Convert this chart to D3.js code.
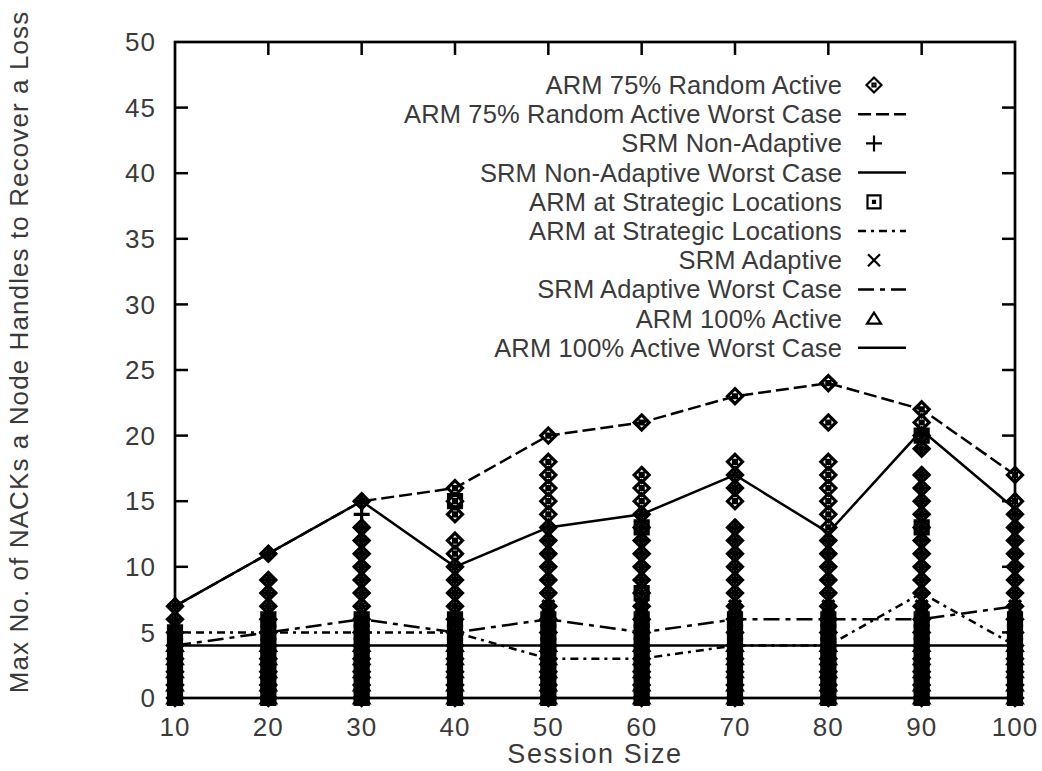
<!DOCTYPE html>
<html>
<head>
<meta charset="utf-8">
<script src="https://cdn.jsdelivr.net/npm/d3@7"></script>
<style>
  body { margin: 0; background: #fff; }
  text { font-family: "Liberation Sans", Arial, sans-serif; fill: #3a3a3a; }
</style>
</head>
<body>
<svg id="chart"></svg>
<script>
// session sizes on the x axis
var sessionSizes = [10, 20, 30, 40, 50, 60, 70, 80, 90, 100];
var yTicks = [0, 5, 10, 15, 20, 25, 30, 35, 40, 45, 50];

// worst case lines (one value per session size)
var arm75Worst = [7, 11, 15, 16, 20, 21, 23, 24, 22, 17];
var srmNonAdaptiveWorst = [7, 11, 15, 10, 13, 14, 17, 12.6, 20.4, 14.4];
var armStrategicWorst = [5, 5, 5, 5, 3, 3, 4, 4, 8, 4];
var srmAdaptiveWorst = [4, 5, 6, 5, 6, 5, 6, 6, 6, 7];
var arm100Worst = [4, 4, 4, 4, 4, 4, 4, 4, 4, 4];

// per node values observed at each session size
var arm75Points = [
  [0, 1, 2, 3, 4, 5, 6, 7],
  [0, 1, 2, 3, 4, 5, 6, 7, 8, 9, 11],
  [0, 1, 2, 3, 4, 5, 6, 7, 8, 9, 10, 11, 12, 13, 15],
  [0, 1, 2, 3, 4, 5, 6, 7, 8, 9, 10, 11, 12, 14, 15, 16],
  [0, 1, 2, 3, 4, 5, 6, 7, 8, 9, 10, 11, 12, 13, 14, 15, 16, 17, 18, 20],
  [0, 1, 2, 3, 4, 5, 6, 7, 8, 9, 10, 11, 12, 13, 14, 15, 16, 17, 21],
  [0, 1, 2, 3, 4, 5, 6, 7, 8, 9, 10, 11, 12, 13, 15, 16, 17, 18, 23],
  [0, 1, 2, 3, 4, 5, 6, 7, 8, 9, 10, 11, 12, 13, 14, 15, 16, 17, 18, 21, 24],
  [0, 1, 2, 3, 4, 5, 6, 7, 8, 9, 10, 11, 12, 13, 14, 15, 16, 17, 19, 20, 21, 22],
  [0, 1, 2, 3, 4, 5, 6, 7, 8, 9, 10, 11, 12, 13, 14, 15, 17]
];
var srmNonAdaptivePoints = [
  [0, 1, 2, 3, 4, 5, 6, 7],
  [0, 1, 2, 3, 4, 5, 6, 7, 8, 9, 11],
  [0, 1, 2, 3, 4, 5, 6, 7, 8, 9, 10, 11, 12, 13, 14, 15],
  [0, 1, 2, 3, 4, 5, 6, 7, 8, 9, 10],
  [0, 1, 2, 3, 4, 5, 6, 7, 8, 9, 10, 11, 12, 13],
  [0, 1, 2, 3, 4, 5, 6, 7, 8, 9, 10, 11, 12, 13, 14],
  [0, 1, 2, 3, 4, 5, 6, 7, 8, 9, 10, 11, 12, 13, 16, 17],
  [0, 1, 2, 3, 4, 5, 6, 7, 8, 9, 10, 11, 12],
  [0, 1, 2, 3, 4, 5, 6, 7, 8, 9, 10, 11, 12, 13, 14, 15, 16, 17, 19, 20],
  [0, 1, 2, 3, 4, 5, 6, 7, 8, 9, 10, 11, 12, 13, 14]
];
var armStrategicPoints = [
  [0, 1, 2, 3, 4, 5],
  [0, 1, 2, 3, 4, 5, 6],
  [0, 1, 2, 3, 4, 5, 6],
  [0, 1, 2, 3, 4, 5, 6, 15],
  [0, 1, 2, 3, 4, 5, 6],
  [0, 1, 2, 3, 4, 5, 6, 8, 13],
  [0, 1, 2, 3, 4, 5, 6],
  [0, 1, 2, 3, 4, 5, 6],
  [0, 1, 2, 3, 4, 5, 6, 13, 20],
  [0, 1, 2, 3, 4, 5, 6]
];
var srmAdaptivePoints = [
  [0, 1, 2, 3, 4, 5],
  [0, 1, 2, 3, 4, 5, 6],
  [0, 1, 2, 3, 4, 5, 6],
  [0, 1, 2, 3, 4, 5, 6],
  [0, 1, 2, 3, 4, 5, 6, 7],
  [0, 1, 2, 3, 4, 5, 6, 7],
  [0, 1, 2, 3, 4, 5, 6, 7],
  [0, 1, 2, 3, 4, 5, 6, 7],
  [0, 1, 2, 3, 4, 5, 6, 7],
  [0, 1, 2, 3, 4, 5, 6, 7]
];
var arm100Points = [
  [0, 1, 2, 3, 4],
  [0, 1, 2, 3, 4],
  [0, 1, 2, 3, 4],
  [0, 1, 2, 3, 4],
  [0, 1, 2, 3, 4],
  [0, 1, 2, 3, 4],
  [0, 1, 2, 3, 4],
  [0, 1, 2, 3, 4],
  [0, 1, 2, 3, 4],
  [0, 1, 2, 3, 4]
];

var legendLabels = [
  "ARM 75% Random Active", "ARM 75% Random Active Worst Case",
  "SRM Non-Adaptive", "SRM Non-Adaptive Worst Case",
  "ARM at Strategic Locations", "ARM at Strategic Locations",
  "SRM Adaptive", "SRM Adaptive Worst Case",
  "ARM 100% Active", "ARM 100% Active Worst Case"
];

var svgWidth = 1042, svgHeight = 771;
var margin = { top: 42, right: 27, bottom: 73, left: 175 };
var width = svgWidth - margin.left - margin.right;
var height = svgHeight - margin.top - margin.bottom;

var svg = d3.select("#chart")
    .attr("width", svgWidth)
    .attr("height", svgHeight);

var g = svg.append("g")
    .attr("transform", "translate(" + margin.left + "," + margin.top + ")");

var x = d3.scaleLinear().domain([10, 100]).range([0, width]);
var y = d3.scaleLinear().domain([0, 50]).range([height, 0]);

// marker shapes, drawn as paths around 0,0
function markerPath(kind) {
  var p = d3.path();
  if (kind == "diamond") {
    p.moveTo(0, -7.5); p.lineTo(7.5, 0); p.lineTo(0, 7.5); p.lineTo(-7.5, 0); p.closePath();
    p.moveTo(-1.5, -1.5); p.lineTo(1.5, -1.5); p.lineTo(1.5, 1.5); p.lineTo(-1.5, 1.5); p.closePath();
  } else if (kind == "plus") {
    p.moveTo(-8, 0); p.lineTo(8, 0);
    p.moveTo(0, -8); p.lineTo(0, 8);
  } else if (kind == "square") {
    p.rect(-6.5, -6.5, 13, 13);
    p.moveTo(-1, -1); p.lineTo(1, -1); p.lineTo(1, 1); p.lineTo(-1, 1); p.closePath();
  } else if (kind == "times") {
    p.moveTo(-6, -6); p.lineTo(6, 6);
    p.moveTo(6, -6); p.lineTo(-6, 6);
  } else if (kind == "triangle") {
    p.moveTo(0, -6); p.lineTo(7, 5); p.lineTo(-7, 5); p.closePath();
  }
  return p.toString();
}

var series = [
  { points: arm75Points, marker: "diamond", worst: arm75Worst, dash: "13,5" },
  { points: srmNonAdaptivePoints, marker: "plus", worst: srmNonAdaptiveWorst, dash: null },
  { points: armStrategicPoints, marker: "square", worst: armStrategicWorst, dash: "8,5,3,5" },
  { points: srmAdaptivePoints, marker: "times", worst: srmAdaptiveWorst, dash: "16,6,5,6" },
  { points: arm100Points, marker: "triangle", worst: arm100Worst, dash: null }
];

var line = d3.line()
    .x(function(d) { return x(d.size); })
    .y(function(d) { return y(d.value); });

series.forEach(function(s) {
  var pts = [];
  s.points.forEach(function(vals, i) {
    vals.forEach(function(v) { pts.push({ size: sessionSizes[i], value: v }); });
  });
  g.append("g").selectAll("path")
    .data(pts)
    .enter().append("path")
    .attr("transform", function(d) { return "translate(" + x(d.size) + "," + y(d.value) + ")"; })
    .attr("d", markerPath(s.marker))
    .attr("fill", "none")
    .attr("stroke", "#000")
    .attr("stroke-width", 3.2);

  var wc = s.worst.map(function(v, i) { return { size: sessionSizes[i], value: v }; });
  g.append("path")
    .datum(wc)
    .attr("fill", "none")
    .attr("stroke", "#000")
    .attr("stroke-width", 2.5)
    .attr("stroke-dasharray", s.dash)
    .attr("d", line);
});

// border with ticks on all four sides
var tickLen = 13;
g.append("rect")
    .attr("width", width).attr("height", height)
    .attr("fill", "none").attr("stroke", "#000").attr("stroke-width", 2.7);

g.append("g").selectAll("line").data(yTicks.slice(1, -1)).enter().append("line")
    .attr("x1", 0).attr("x2", tickLen)
    .attr("y1", function(d) { return y(d); }).attr("y2", function(d) { return y(d); })
    .attr("stroke", "#000").attr("stroke-width", 2.5);
g.append("g").selectAll("line").data(yTicks.slice(1, -1)).enter().append("line")
    .attr("x1", width).attr("x2", width - tickLen)
    .attr("y1", function(d) { return y(d); }).attr("y2", function(d) { return y(d); })
    .attr("stroke", "#000").attr("stroke-width", 2.5);
g.append("g").selectAll("line").data(sessionSizes.slice(1, -1)).enter().append("line")
    .attr("y1", height).attr("y2", height - tickLen)
    .attr("x1", function(d) { return x(d); }).attr("x2", function(d) { return x(d); })
    .attr("stroke", "#000").attr("stroke-width", 2.5);
g.append("g").selectAll("line").data(sessionSizes.slice(1, -1)).enter().append("line")
    .attr("y1", 0).attr("y2", tickLen)
    .attr("x1", function(d) { return x(d); }).attr("x2", function(d) { return x(d); })
    .attr("stroke", "#000").attr("stroke-width", 2.5);

// tick labels
g.append("g").selectAll("text").data(yTicks).enter().append("text")
    .attr("x", -19).attr("y", function(d) { return y(d); })
    .attr("dy", "0.35em")
    .attr("text-anchor", "end")
    .style("font-size", "26px")
    .style("letter-spacing", "1px")
    .text(function(d) { return d; });
g.append("g").selectAll("text").data(sessionSizes).enter().append("text")
    .attr("x", function(d) { return x(d); }).attr("y", height + 29)
    .attr("dy", "0.35em")
    .attr("text-anchor", "middle")
    .style("font-size", "26px")
    .style("letter-spacing", "1px")
    .text(function(d) { return d; });

// axis titles
svg.append("text")
    .attr("x", margin.left + width / 2).attr("y", 754)
    .attr("dy", "0.35em")
    .attr("text-anchor", "middle")
    .style("font-size", "27px")
    .style("letter-spacing", "1.6px")
    .text("Session Size");
svg.append("text")
    .attr("transform", "translate(19," + 352 + ") rotate(-90)")
    .attr("dy", "0.35em")
    .attr("text-anchor", "middle")
    .style("font-size", "26px")
    .style("letter-spacing", "1.1px")
    .text("Max No. of NACKs a Node Handles to Recover a Loss");

// legend
var legend = g.append("g").attr("transform", "translate(0,43)");
legendLabels.forEach(function(label, i) {
  var ly = i * 29.2;
  legend.append("text")
      .attr("x", 667).attr("y", ly)
      .attr("dy", "0.35em")
      .attr("text-anchor", "end")
      .style("font-size", "25.5px")
      .style("letter-spacing", "0.15px")
      .text(label);
  var s = series[Math.floor(i / 2)];
  if (i % 2 == 0) {
    legend.append("path")
        .attr("transform", "translate(699," + ly + ")")
        .attr("d", markerPath(s.marker))
        .attr("fill", "none").attr("stroke", "#000").attr("stroke-width", 2.2);
  } else {
    legend.append("line")
        .attr("x1", 683).attr("x2", 731)
        .attr("y1", ly).attr("y2", ly)
        .attr("stroke", "#000").attr("stroke-width", 2.5)
        .attr("stroke-dasharray", s.dash);
  }
});
</script>
</body>
</html>
